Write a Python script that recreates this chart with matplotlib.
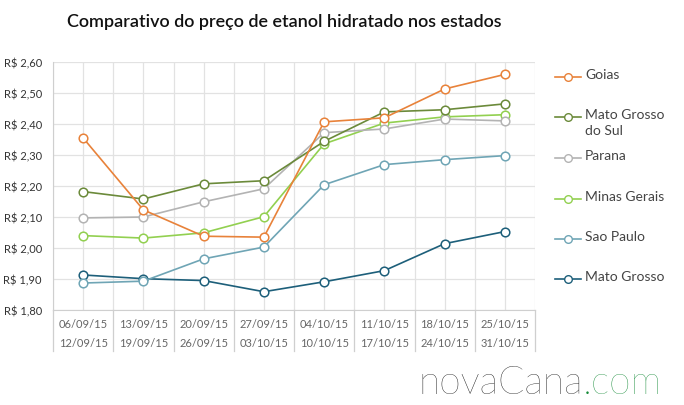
import matplotlib
matplotlib.use("Agg")
import matplotlib.pyplot as plt
from matplotlib.lines import Line2D
import numpy as np

W, H = 684, 406

semana_ini = ["06/09/15", "13/09/15", "20/09/15", "27/09/15",
              "04/10/15", "11/10/15", "18/10/15", "25/10/15"]
semana_fim = ["12/09/15", "19/09/15", "26/09/15", "03/10/15",
              "10/10/15", "17/10/15", "24/10/15", "31/10/15"]

estados = ["Goias", "Mato Grosso\ndo Sul", "Parana", "Minas Gerais", "Sao Paulo", "Mato Grosso"]
goias = [2.355, 2.123, 2.038, 2.035, 2.407, 2.420, 2.513, 2.560]
ms = [2.182, 2.158, 2.207, 2.217, 2.344, 2.439, 2.446, 2.465]
parana = [2.097, 2.100, 2.149, 2.191, 2.372, 2.384, 2.416, 2.410]
mg = [2.040, 2.032, 2.049, 2.101, 2.336, 2.403, 2.423, 2.430]
sp = [1.887, 1.893, 1.965, 2.003, 2.204, 2.269, 2.285, 2.298]
mt = [1.913, 1.901, 1.895, 1.859, 1.891, 1.927, 2.014, 2.053]
series = [goias, ms, parana, mg, sp, mt]
cores = ["#e8823a", "#6b8a3a", "#b3b3b3", "#92d050", "#6fa5b5", "#1d5f7a"]

plt.rcParams["font.family"] = ["Lato", "DejaVu Sans"]

fig = plt.figure(figsize=(W / 100, H / 100), dpi=100)
ax = fig.add_axes([53 / W, 1 - 311 / H, (535 - 53) / W, (311 - 63) / H])

x = np.arange(len(semana_ini))
# draw bottom series first so the top-listed ones sit on top
for vals, c in reversed(list(zip(series, cores))):
    ax.plot(x, vals, color=c, lw=1.2, marker="o", ms=6.2, mfc="white",
            mec=c, mew=1.1, zorder=3)

ax.set_xlim(-0.5, 7.5)
ax.set_ylim(1.80, 2.60)
yt = np.arange(1.80, 2.601, 0.10)
ax.set_yticks(yt)
ax.set_yticklabels(["R$ " + f"{v:.2f}".replace(".", ",") for v in yt],
                   fontsize=8, color="#333333")
ax.set_xticks(np.arange(-0.5, 7.51, 0.5), minor=False)
ax.set_xticklabels([])
ax.tick_params(length=0, pad=8)
ax.grid(True, color="#e2e2e2", lw=0.9, zorder=0)
for s in ["top", "right"]:
    ax.spines[s].set_visible(False)
for s in ["left", "bottom"]:
    ax.spines[s].set_color("#cfcfcf")

# category labels and separators under the axis
for i in range(len(semana_ini)):
    ax.text(i, -0.055, semana_ini[i], transform=ax.get_xaxis_transform(),
            ha="center", va="center", fontsize=8, color="#666666")
    ax.text(i, -0.13, semana_fim[i], transform=ax.get_xaxis_transform(),
            ha="center", va="center", fontsize=8, color="#666666")
for e in np.arange(-0.5, 7.51, 1.0):
    ax.plot([e, e], [0, -0.165], transform=ax.get_xaxis_transform(),
            color="#cfcfcf", lw=0.9, clip_on=False)

fig.text(67 / W, 1 - 22 / H, "Comparativo do preço de etanol hidratado nos estados",
         fontsize=13, fontweight="semibold", color="#111111", va="center", ha="left")

# legend on the right
ly = [78, 118, 159, 200, 240, 280]
for nome, c, y in zip(estados, cores, ly):
    yf = 1 - y / H
    fig.add_artist(Line2D([555 / W, 581 / W], [yf, yf], color=c, lw=1.2))
    fig.add_artist(Line2D([568 / W], [yf], color=c, marker="o", ms=5.5, mfc="white",
                          mec=c, mew=1.0))
    fig.text(585 / W, 1 - (y - 9) / H, nome, fontsize=10, color="#444444",
             va="top", ha="left", linespacing=1.45)

# logo
t = fig.text(418 / W, 1 - 383 / H, "novaCana", fontsize=28, fontweight="light",
             color="#111111", va="center", ha="left")
fig.canvas.draw()
bb = t.get_window_extent()
fig.text(bb.x1 / W, 1 - 383 / H, ".com", fontsize=28, fontweight="light",
         color="#138a36", va="center", ha="left")

fig.savefig("out.png", dpi=100)
